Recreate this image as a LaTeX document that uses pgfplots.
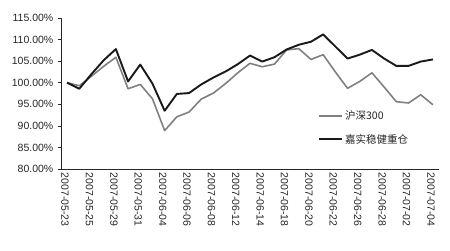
\documentclass[border=0pt]{standalone}
\usepackage{fontspec}
\setmainfont{Liberation Sans}
\newfontfamily\cjk{Noto Sans CJK SC}
\usepackage{pgfplots}
\pgfplotsset{compat=1.18}
\usepackage{pgfplotstable}
\definecolor{hsgrey}{RGB}{128,128,128}
\definecolor{jsblack}{RGB}{25,25,25}
\pgfplotstableread{
i hs js
0 100.0 100.0
1 99.3 98.6
2 101.5 102.0
3 103.8 105.2
4 105.9 107.8
5 98.6 100.3
6 99.6 104.2
7 96.3 99.8
8 88.9 93.5
9 92.1 97.4
10 93.2 97.6
11 96.2 99.6
12 97.6 101.2
13 99.8 102.6
14 102.3 104.3
15 104.5 106.3
16 103.7 104.9
17 104.3 105.9
18 107.6 107.7
19 107.9 108.8
20 105.4 109.5
21 106.5 111.2
22 102.5 108.4
23 98.7 105.6
24 100.3 106.5
25 102.3 107.6
26 99.0 105.6
27 95.6 103.9
28 95.3 103.9
29 97.2 104.9
30 94.9 105.4
}\datatable
\begin{document}
\fontsize{10.5}{12}\selectfont
\begin{tikzpicture}
\begin{axis}[
  scale only axis,
  width=378pt, height=151pt,
  xmin=-0.5, xmax=30.5,
  ymin=80, ymax=115,
  axis x line*=bottom,
  axis y line*=left,
  axis line style={-, line width=0.8pt, black!85},
  ytick={80,85,...,115},
  yticklabels={80.00\%,85.00\%,90.00\%,95.00\%,100.00\%,105.00\%,110.00\%,115.00\%},
  ytick style={line width=0.6pt, black!85},
  ytick align=outside,
  major tick length=3pt,
  xtick={0,2,...,30},
  xticklabels={2007-05-23,2007-05-25,2007-05-29,2007-05-31,2007-06-04,2007-06-06,2007-06-08,2007-06-12,2007-06-14,2007-06-18,2007-06-20,2007-06-22,2007-06-26,2007-06-28,2007-07-02,2007-07-04},
  xtick style={draw=none},
  minor xtick={-0.5,0.5,...,30.5},
  minor x tick style={line width=0.6pt, black!85},
  minor tick length=3pt,
  xtick align=inside,
  xticklabel style={rotate=-90, anchor=west, font=\fontsize{10.5}{12}\selectfont, yshift=-2pt},
  yticklabel style={font=\fontsize{10.5}{12}\selectfont, xshift=-1pt},
  tick label style={black!85},
  legend style={at={(0.68,0.40)}, anchor=north west, draw=none, fill=none,
    font=\cjk\fontsize{10.5}{12}\selectfont, row sep=9pt, inner sep=0pt,
    text=black!85},
  legend cell align=left,
  legend image code/.code={\draw[#1] (0pt,0pt) -- (23pt,0pt);},
  clip=false,
]
\addplot[hsgrey, line width=1.6pt, line join=round] table[x=i, y=hs] {\datatable};
\addlegendentry{沪深300}
\addplot[jsblack, line width=1.9pt, line join=round] table[x=i, y=js] {\datatable};
\addlegendentry{嘉实稳健重仓}
\end{axis}
\path[use as bounding box] (current axis.south west) ++(-61pt,-81pt) rectangle ++(450pt,250pt);
\end{tikzpicture}
\end{document}
